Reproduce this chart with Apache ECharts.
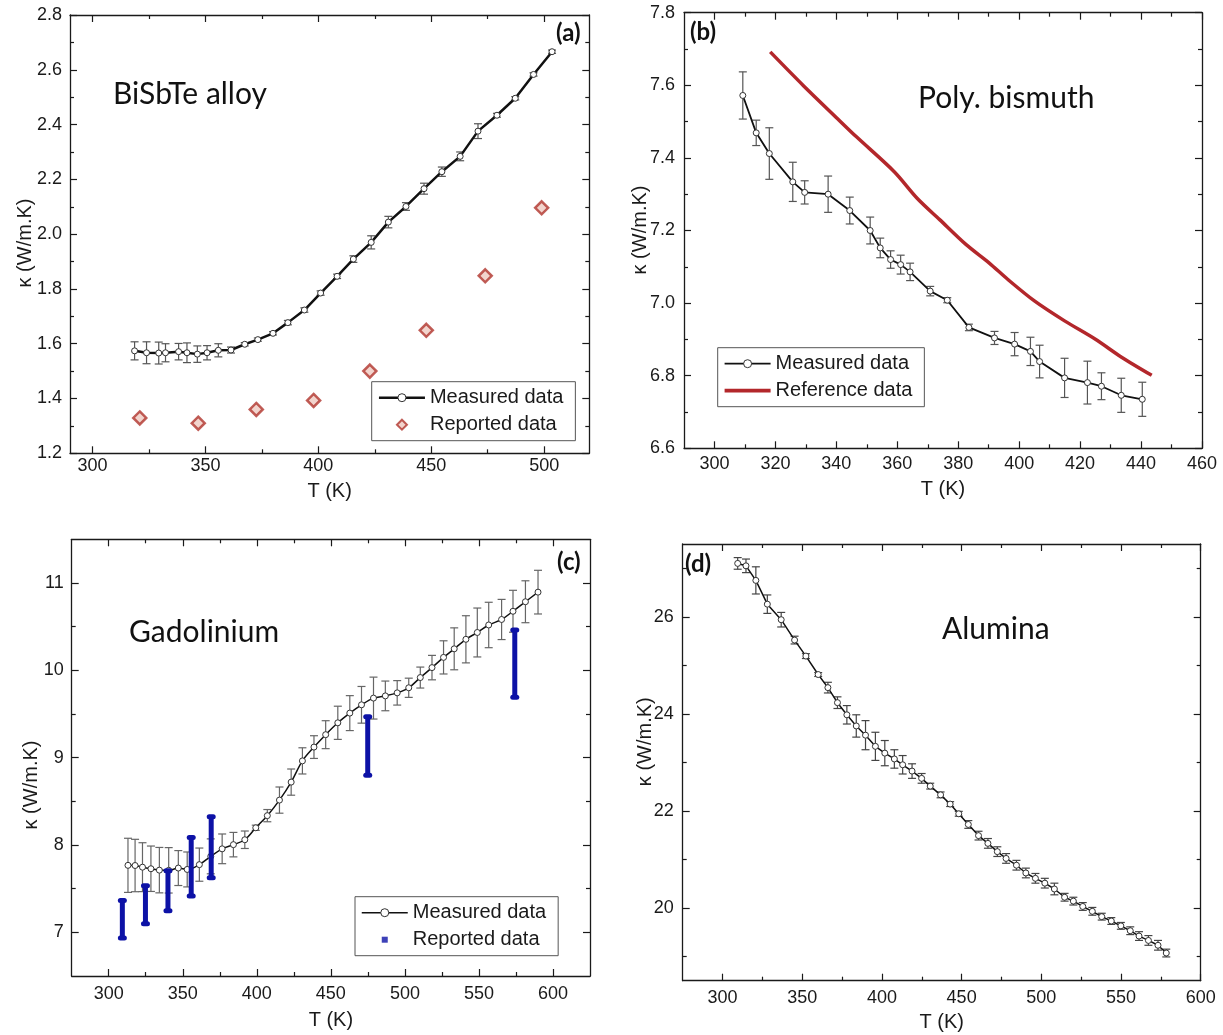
<!DOCTYPE html>
<html>
<head>
<meta charset="utf-8">
<script src="https://cdn.jsdelivr.net/npm/echarts@6.0.0/dist/echarts.min.js"></script>
<style>html,body{margin:0;padding:0;background:#fff}#chart{width:1223px;height:1035px}</style>
</head>
<body>
<div id="chart"></div>
<script>
// ---------- Panel (a): BiSbTe alloy ----------
const aMeasT = [318.6,323.9,329.3,332.3,338.1,341.8,346.4,350.7,355.7,361.3,367.4,373.2,379.9,386.5,393.8,401.0,408.3,415.5,423.4,431.0,438.8,446.8,454.7,462.8,470.7,479.1,487.2,495.3,503.5];
const aMeasK = [1.574,1.567,1.566,1.567,1.571,1.567,1.562,1.567,1.576,1.577,1.598,1.615,1.638,1.677,1.723,1.785,1.846,1.909,1.970,2.044,2.101,2.166,2.228,2.284,2.376,2.434,2.496,2.583,2.666];
const aMeasErr = [0.033,0.04,0.04,0.033,0.03,0.036,0.03,0.026,0.024,0.011,0.006,0.006,0.006,0.008,0.008,0.008,0.008,0.012,0.024,0.021,0.014,0.02,0.017,0.016,0.027,0.007,0.006,0.006,0.006];
const aRepT = [320.9,346.8,372.5,397.9,422.8,447.8,473.9,498.9];
const aRepK = [1.329,1.310,1.360,1.393,1.500,1.649,1.848,2.096];
const aXMajor = [300,350,400,450,500];
const aXMinor = [325,375,425,475];
const aYMajor = [1.2,1.4,1.6,1.8,2.0,2.2,2.4,2.6,2.8];
const aYMinor = [1.3,1.5,1.7,1.9,2.1,2.3,2.5,2.7];

// ---------- Panel (b): Poly. bismuth ----------
const bMeasT = [309.3,313.7,318.0,325.7,329.6,337.3,344.4,351.1,354.4,357.8,361.1,364.2,370.8,376.4,383.5,391.9,398.5,403.7,406.7,414.9,422.4,427.0,433.5,440.4];
const bMeasK = [7.572,7.469,7.412,7.334,7.305,7.300,7.255,7.200,7.152,7.120,7.106,7.086,7.033,7.008,6.933,6.904,6.887,6.867,6.839,6.794,6.781,6.771,6.746,6.735];
const bMeasErr = [0.065,0.035,0.071,0.054,0.032,0.05,0.037,0.037,0.027,0.024,0.026,0.024,0.013,0.007,0.009,0.018,0.032,0.039,0.045,0.054,0.059,0.037,0.047,0.047];
const bRefT = [318.3,329.2,340.4,346.6,359.0,366.5,373.9,382.6,390.1,396.3,405.0,414.9,424.9,433.6,443.5];
const bRefK = [7.692,7.599,7.508,7.458,7.362,7.289,7.230,7.161,7.111,7.065,7.006,6.951,6.901,6.851,6.801];
const bXMajor = [300,320,340,360,380,400,420,440,460];
const bXMinor = [310,330,350,370,390,410,430,450];
const bYMajor = [6.6,6.8,7.0,7.2,7.4,7.6,7.8];
const bYMinor = [6.7,6.9,7.1,7.3,7.5,7.7];

// ---------- Panel (c): Gadolinium ----------
const cMeasT = [313.0,317.8,322.8,328.5,334.2,340.5,347.0,353.0,361.2,368.9,376.6,384.2,391.9,399.3,407.1,415.3,423.2,430.8,438.6,446.5,454.7,462.8,470.7,478.8,486.8,494.8,502.6,510.4,518.3,526.1,533.3,541.2,548.9,556.6,565.3,573.0,581.4,589.9];
const cMeasK = [7.767,7.765,7.746,7.728,7.712,7.71,7.736,7.72,7.775,7.87,7.956,8.004,8.06,8.197,8.336,8.514,8.72,8.963,9.121,9.263,9.399,9.51,9.605,9.682,9.707,9.742,9.80,9.917,10.031,10.148,10.246,10.355,10.433,10.519,10.582,10.676,10.785,10.895];
const cMeasErr = [0.31,0.30,0.28,0.26,0.26,0.26,0.2,0.2,0.19,0.2,0.17,0.14,0.1,0.03,0.07,0.15,0.15,0.15,0.13,0.16,0.19,0.2,0.21,0.24,0.17,0.14,0.11,0.12,0.14,0.19,0.24,0.27,0.28,0.26,0.23,0.24,0.24,0.25];
const cRepT = [309.2,324.8,340.0,355.7,369.2,474.9,574.2];
const cRepLow = [6.934,7.098,7.246,7.415,7.626,8.799,9.691];
const cRepHigh = [7.364,7.532,7.704,8.087,8.322,9.468,10.461];
const cXMajor = [300,350,400,450,500,550,600];
const cXMinor = [325,375,425,475,525,575];
const cYMajor = [7,8,9,10,11];
const cYMinor = [7.5,8.5,9.5,10.5];

// ---------- Panel (d): Alumina ----------
const dMeasT = [309.5,314.7,320.9,328.1,336.8,345.2,352.3,360.0,366.1,372.1,378.0,383.9,389.7,395.9,401.8,407.8,413.0,418.9,424.9,430.3,436.8,442.8,448.2,454.2,460.6,466.5,472.4,477.9,484.4,490.3,496.3,502.2,508.2,514.6,520.1,526.0,532.0,537.9,543.9,549.9,555.8,561.3,567.2,573.2,578.4];
const dMeasK = [27.10,27.05,26.75,26.26,25.94,25.52,25.19,24.81,24.54,24.23,23.98,23.75,23.56,23.33,23.19,23.07,22.95,22.82,22.67,22.51,22.33,22.14,21.94,21.72,21.49,21.33,21.16,21.02,20.88,20.72,20.61,20.51,20.39,20.22,20.14,20.03,19.93,19.82,19.73,19.63,19.53,19.42,19.33,19.23,19.07];
const dMeasErr = [0.12,0.14,0.28,0.19,0.15,0.08,0.05,0.04,0.11,0.12,0.19,0.23,0.30,0.29,0.26,0.19,0.19,0.15,0.10,0.06,0.06,0.05,0.05,0.08,0.09,0.1,0.1,0.1,0.1,0.1,0.1,0.1,0.12,0.08,0.08,0.08,0.08,0.07,0.07,0.07,0.08,0.09,0.1,0.1,0.08];
const dXMajor = [300,350,400,450,500,550,600];
const dXMinor = [325,375,425,475,525,575];
const dYMajor = [20,22,24,26];
const dYMinor = [19,21,23,25,27];

// ---------- helpers ----------
const FONT = '"Liberation Sans", Arial, Helvetica, sans-serif';
const TFONT = 'Lato, "Open Sans", sans-serif';
const INK = '#1a1a1a';
const YTITLE = 'κ (W/m.K)';
const XTITLE = 'T (K)';

const grids = [
  {left:70,   top:15,    width:519.3, height:438.3},
  {left:684,  top:12.7,  width:518,   height:435.6},
  {left:71.7, top:539.3, width:518.3, height:436.7},
  {left:682.7,top:544,   width:518,   height:436.7}
].map(g => Object.assign({outerBoundsMode:'none', containLabel:false}, g));

const xAxes = [], yAxes = [];
function addAxes(gi, p) {
  const line = {show:true, onZero:false, lineStyle:{color:INK, width:1.3}};
  const noLine = {show:false, onZero:false};
  const tick = {color:INK, width:1.2};
  const base = {gridIndex:gi, type:'value', splitLine:{show:false}, axisPointer:{show:false}};
  const nameStyle = {fontSize:20, color:INK, fontFamily:FONT};
  xAxes.push(Object.assign({}, base, {position:'bottom', min:p.xr[0], max:p.xr[1], axisLine:line,
    axisTick:{show:true, inside:true, length:7, customValues:p.xMaj, lineStyle:tick},
    axisLabel:{show:true, customValues:p.xMaj, margin:p.xlm, fontSize:18, color:INK, fontFamily:FONT},
    name:XTITLE, nameLocation:'middle', nameGap:p.xng, nameMoveOverlap:false, nameTextStyle:nameStyle}));
  xAxes.push(Object.assign({}, base, {position:'top', min:p.xr[0], max:p.xr[1], axisLine:line,
    axisTick:{show:true, inside:true, length:7, customValues:p.xMaj, lineStyle:tick}, axisLabel:{show:false}}));
  xAxes.push(Object.assign({}, base, {position:'bottom', min:p.xr[0], max:p.xr[1], axisLine:noLine,
    axisTick:{show:true, inside:true, length:4, customValues:p.xMin, lineStyle:tick}, axisLabel:{show:false}}));
  xAxes.push(Object.assign({}, base, {position:'top', min:p.xr[0], max:p.xr[1], axisLine:noLine,
    axisTick:{show:true, inside:true, length:4, customValues:p.xMin, lineStyle:tick}, axisLabel:{show:false}}));
  yAxes.push(Object.assign({}, base, {position:'left', min:p.yr[0], max:p.yr[1], axisLine:line,
    axisTick:{show:true, inside:true, length:7, customValues:p.yMaj, lineStyle:tick},
    axisLabel:{show:true, customValues:p.yMaj, margin:p.ylm, fontSize:18, color:INK, fontFamily:FONT, formatter:p.yfmt}}));
  yAxes.push(Object.assign({}, base, {position:'right', min:p.yr[0], max:p.yr[1], axisLine:line,
    axisTick:{show:true, inside:true, length:7, customValues:p.yMaj, lineStyle:tick}, axisLabel:{show:false}}));
  yAxes.push(Object.assign({}, base, {position:'left', min:p.yr[0], max:p.yr[1], axisLine:noLine,
    axisTick:{show:true, inside:true, length:4, customValues:p.yMin, lineStyle:tick}, axisLabel:{show:false}}));
  yAxes.push(Object.assign({}, base, {position:'right', min:p.yr[0], max:p.yr[1], axisLine:noLine,
    axisTick:{show:true, inside:true, length:4, customValues:p.yMin, lineStyle:tick}, axisLabel:{show:false}}));
}
const fmt1 = v => v.toFixed(1);
const fmt0 = v => String(Math.round(v));
addAxes(0, {xr:[290,520], yr:[1.2,2.8], xMaj:aXMajor, xMin:aXMinor, yMaj:aYMajor, yMin:aYMinor, yfmt:fmt1, xlm:4, ylm:8, xng:28});
addAxes(1, {xr:[290,460], yr:[6.6,7.8], xMaj:bXMajor, xMin:bXMinor, yMaj:bYMajor, yMin:bYMinor, yfmt:fmt1, xlm:7, ylm:9, xng:31});
addAxes(2, {xr:[275,625], yr:[6.5,11.5], xMaj:cXMajor, xMin:cXMinor, yMaj:cYMajor, yMin:cYMinor, yfmt:fmt0, xlm:9, ylm:8, xng:34});
addAxes(3, {xr:[275,600], yr:[18.5,27.5], xMaj:dXMajor, xMin:dXMinor, yMaj:dYMajor, yMin:dYMinor, yfmt:fmt0, xlm:8, ylm:9, xng:32});

function errBars(T, K, E) { return T.map((t, i) => [t, K[i] - E[i], K[i] + E[i]]); }
function pairs(T, K) { return T.map((t, i) => [t, K[i]]); }

function errRender(color, lw, capW) {
  return function (params, api) {
    const x = api.value(0), lo = api.value(1), hi = api.value(2);
    const p1 = api.coord([x, lo]), p2 = api.coord([x, hi]);
    const h = capW / 2;
    const st = {stroke:color, lineWidth:lw};
    return {type:'group', children:[
      {type:'line', shape:{x1:p1[0], y1:p1[1], x2:p2[0], y2:p2[1]}, style:st},
      {type:'line', shape:{x1:p1[0]-h, y1:p1[1], x2:p1[0]+h, y2:p1[1]}, style:st},
      {type:'line', shape:{x1:p2[0]-h, y1:p2[1], x2:p2[0]+h, y2:p2[1]}, style:st}
    ]};
  };
}
function blueBarRender(params, api) {
  const x = api.value(0), lo = api.value(1), hi = api.value(2);
  const p1 = api.coord([x, lo]), p2 = api.coord([x, hi]);
  const col = '#0d12a6';
  return {type:'group', children:[
    {type:'line', shape:{x1:p1[0], y1:p1[1], x2:p2[0], y2:p2[1]}, style:{stroke:col, lineWidth:5}},
    {type:'rect', shape:{x:p1[0]-4.5, y:p1[1]-2.5, width:9, height:5, r:2.5}, style:{fill:col}},
    {type:'rect', shape:{x:p2[0]-4.5, y:p2[1]-2.5, width:9, height:5, r:2.5}, style:{fill:col}}
  ]};
}
function measured(gi, T, K, lw, smooth) {
  return {type:'line', name:'Measured data', xAxisIndex:gi*4, yAxisIndex:gi*4, data:pairs(T, K),
    symbol:'circle', symbolSize:6, showSymbol:true, smooth:smooth || false, z:5, animation:false,
    lineStyle:{color:'#111', width:lw}, itemStyle:{color:'#fff', borderColor:'#333', borderWidth:1}};
}
function errSeries(gi, T, K, E, color) {
  return {type:'custom', name:'err' + gi, xAxisIndex:gi*4, yAxisIndex:gi*4, z:3, animation:false,
    data:errBars(T, K, E), encode:{x:0, y:[1,2]}, renderItem:errRender(color, 1.2, 8)};
}

const series = [
  errSeries(0, aMeasT, aMeasK, aMeasErr, '#555'),
  measured(0, aMeasT, aMeasK, 2.5, false),
  {type:'scatter', name:'Reported data', xAxisIndex:0, yAxisIndex:0, data:pairs(aRepT, aRepK), z:4,
    symbol:'diamond', symbolSize:13, itemStyle:{color:'#efc9c1', borderColor:'#b0352d', borderWidth:2.5}},
  errSeries(1, bMeasT, bMeasK, bMeasErr, '#555'),
  measured(1, bMeasT, bMeasK, 1.8, false),
  {type:'line', name:'Reference data', xAxisIndex:4, yAxisIndex:4, data:pairs(bRefT, bRefK), z:4,
    symbol:'none', smooth:0.3, color:'#b3272b', lineStyle:{color:'#b3272b', width:3.5}},
  errSeries(2, cMeasT, cMeasK, cMeasErr, '#666'),
  measured(2, cMeasT, cMeasK, 1.5, 0.35),
  {type:'custom', name:'Reported data', xAxisIndex:8, yAxisIndex:8, z:6, animation:false,
    data:cRepT.map((t, i) => [t, cRepLow[i], cRepHigh[i]]), encode:{x:0, y:[1,2]}, renderItem:blueBarRender},
  errSeries(3, dMeasT, dMeasK, dMeasErr, '#444'),
  measured(3, dMeasT, dMeasK, 1.5, false)
];

const legendBase = {orient:'vertical', padding:[6,8,6,6], itemGap:7, itemWidth:46, itemHeight:10,
  borderColor:'#555', borderWidth:1, backgroundColor:'#fff', selectedMode:false,
  textStyle:{fontSize:20, fontFamily:FONT, color:INK}, itemStyle:{borderWidth:1}};
const legends = [
  Object.assign({}, legendBase, {left:371.7, top:381.7, padding:[6,12,6,6],
    data:[{name:'Measured data', lineStyle:{width:2.5}},
          {name:'Reported data', icon:'path://M0,0M46,12M23,0L29,6L23,12L17,6Z',
           itemStyle:{color:'#efc9c1', borderColor:'#b0352d', borderWidth:2}}]}),
  Object.assign({}, legendBase, {left:717.7, top:347.7, padding:[6,12,6,6],
    data:[{name:'Measured data', lineStyle:{width:1.8}},
          {name:'Reference data', icon:'path://M0,0h50v4h-50z', itemStyle:{color:'#b3272b', borderWidth:0}}]}),
  Object.assign({}, legendBase, {left:355, top:896.7, padding:[6,12,6,6],
    data:[{name:'Measured data', lineStyle:{width:1.5}},
          {name:'Reported data', icon:'path://M0,0M10,10M2,2h6v6h-6z', itemStyle:{color:'#0d12a6', borderWidth:0}}]})
];

function txt(text, x, y, size, bold) {
  return {type:'text', x:x, y:y, z:100, style:{text:text, fontSize:size, fontFamily:TFONT,
    fontWeight:bold ? 'bold' : 'normal', fill:'#111', textAlign:'left', textVerticalAlign:'middle'}};
}
function ytitle(x, y) {
  return {type:'text', x:x, y:y, rotation:Math.PI / 2, z:100, style:{text:YTITLE, fontSize:20, fontFamily:FONT,
    fill:INK, textAlign:'center', textVerticalAlign:'middle'}};
}
const graphics = [
  txt('BiSbTe alloy', 113, 94.4, 30, false),
  txt('Poly. bismuth', 918, 98.4, 30, false),
  txt('Gadolinium', 129, 632.4, 30, false),
  txt('Alumina', 942, 629.1, 30, false),
  txt('(a)', 556, 33, 24, true),
  txt('(b)', 690, 32, 24, true),
  txt('(c)', 557, 562, 24, true),
  txt('(d)', 685, 564, 24, true),
  ytitle(25, 243),
  ytitle(640, 230),
  ytitle(31.7, 785),
  ytitle(645, 741.7)
];

const chart = echarts.init(document.getElementById('chart'), null, {renderer:'canvas'});
chart.setOption({
  animation:false,
  backgroundColor:'#fff',
  grid:grids,
  xAxis:xAxes,
  yAxis:yAxes,
  legend:legends,
  graphic:{elements:graphics},
  series:series
});
</script>
</body>
</html>
